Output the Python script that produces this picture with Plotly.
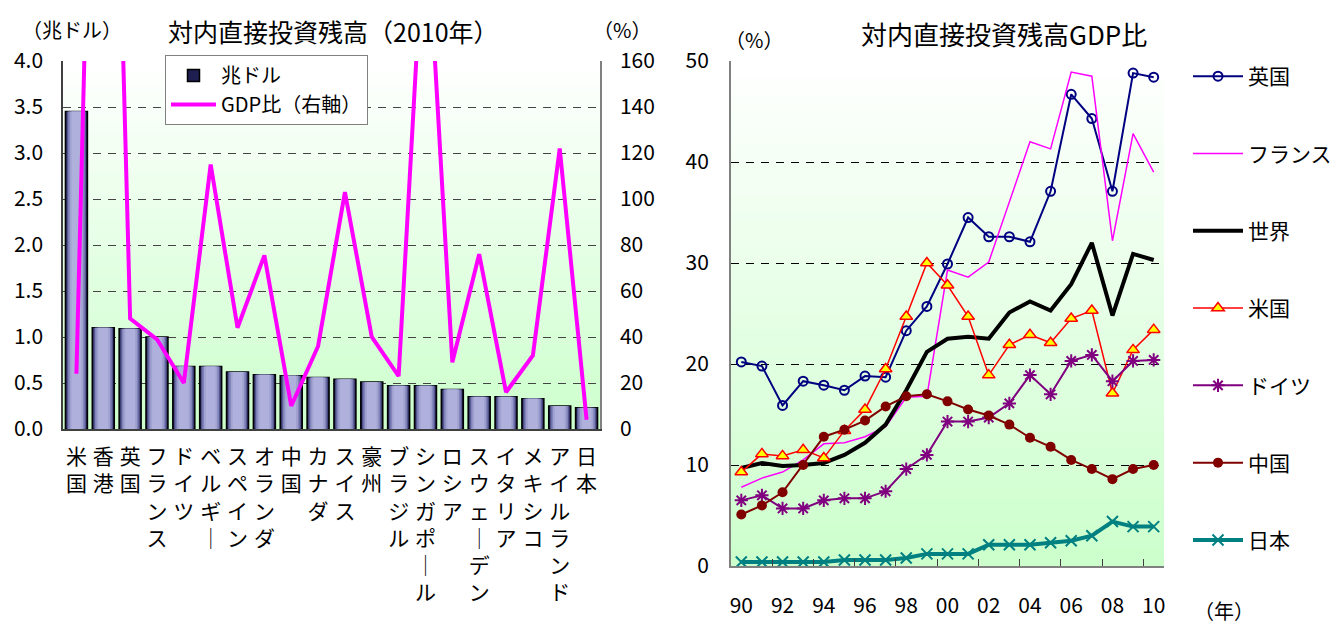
import plotly.graph_objects as go

# ---- 2010 inward FDI stock by economy ----
countries = ["米国", "香港", "英国", "フランス", "ドイツ", "ベルギー", "スペイン", "オランダ",
             "中国", "カナダ", "スイス", "豪州", "ブラジル", "シンガポール", "ロシア",
             "スウェーデン", "イタリア", "メキシコ", "アイルランド", "日本"]
stock_trillion_usd = [3.45, 1.10, 1.09, 1.00, 0.68, 0.68, 0.62, 0.59, 0.58, 0.56,
                      0.54, 0.51, 0.47, 0.47, 0.43, 0.35, 0.35, 0.33, 0.25, 0.23]
stock_gdp_pct = [24, 488, 48, 39, 20, 115, 44, 75.5, 10, 36,
                 103, 40, 23, 232, 29, 76, 16, 32, 122, 4]

# ---- inward FDI stock as % of GDP, 1990-2010 ----
years = list(range(1990, 2011))
year_labels = ["90", "92", "94", "96", "98", "00", "02", "04", "06", "08", "10"]
uk = [20.2, 19.8, 15.9, 18.3, 17.9, 17.4, 18.8, 18.7, 23.3, 25.7, 29.9,
      34.5, 32.6, 32.6, 32.1, 37.1, 46.7, 44.3, 37.1, 48.8, 48.4]
france = [7.8, 8.7, 9.3, 10.5, 12.1, 12.2, 12.8, 13.8, 16.7, 16.8, 29.3,
          28.6, 30.1, 36.1, 42.0, 41.3, 48.9, 48.5, 32.2, 42.8, 39.0]
world = [9.7, 10.2, 9.9, 10.0, 10.2, 11.0, 12.2, 14.0, 17.4, 21.2, 22.5,
         22.7, 22.5, 25.1, 26.2, 25.3, 27.9, 32.0, 24.8, 30.9, 30.3]
usa = [9.3, 11.1, 10.9, 11.5, 10.7, 13.4, 15.5, 19.5, 24.7, 30.0, 27.8,
       24.7, 18.9, 21.9, 22.9, 22.1, 24.5, 25.3, 17.1, 21.4, 23.4]
germany = [6.5, 7.0, 5.7, 5.7, 6.5, 6.7, 6.7, 7.4, 9.6, 11.0, 14.3,
           14.3, 14.7, 16.1, 18.9, 17.0, 20.3, 20.9, 18.3, 20.3, 20.4]
china = [5.1, 6.0, 7.3, 10.0, 12.8, 13.5, 14.4, 15.8, 16.8, 17.0, 16.3,
         15.5, 14.9, 14.0, 12.7, 11.8, 10.5, 9.6, 8.6, 9.6, 10.0]
japan = [0.4, 0.4, 0.4, 0.4, 0.4, 0.6, 0.6, 0.6, 0.8, 1.2, 1.2,
         1.2, 2.1, 2.1, 2.1, 2.3, 2.5, 3.0, 4.4, 3.9, 3.9]

W, H = 1331, 624
FONT = "Noto Sans CJK JP"


def fx(p):
    return p / W


def fy(p):
    return 1 - p / H


def vertical(name):
    # stack characters top to bottom; the long-vowel mark turns vertical
    return "<br>".join("│" if c == "ー" else c for c in name)


cats = [vertical(c) for c in countries]

fig = go.Figure()

# cylinder-like shading for the bars: stacked, narrowing layers
bar_layers = [
    (0.82, "#1e1e50", dict(color="#000000", width=1.5)),
    (0.72, "#55578f", dict(width=0)),
    (0.62, "#8183ba", dict(width=0)),
    (0.50, "#a0a2d0", dict(width=0)),
    (0.36, "#afb1dc", dict(width=0)),
]
for i, (w, col, ln) in enumerate(bar_layers):
    fig.add_trace(go.Bar(
        x=cats, y=stock_trillion_usd, width=w, name="兆ドル",
        marker=dict(color=col, line=ln),
        showlegend=(i == 0), legend="legend", legendgroup="bars",
        xaxis="x", yaxis="y", hoverinfo="skip" if i else None,
    ))

fig.add_trace(go.Scatter(
    x=cats, y=stock_gdp_pct, name="GDP比（右軸）", mode="lines",
    line=dict(color="#ff00ff", width=4),
    xaxis="x", yaxis="y2", legend="legend", legendgroup="gdp",
))

series = [
    ("英国", uk, dict(color="#000080", width=2),
     dict(symbol="circle-open", size=9, color="#000080", line=dict(width=2, color="#000080"))),
    ("フランス", france, dict(color="#ff00ff", width=1.5), None),
    ("世界", world, dict(color="#000000", width=4), None),
    ("米国", usa, dict(color="#ff0000", width=1.5),
     dict(symbol="triangle-up", size=11, color="#ffff00", line=dict(width=1.5, color="#ff0000"))),
    ("ドイツ", germany, dict(color="#800080", width=2),
     dict(symbol="asterisk-open", size=11, color="#800080", line=dict(width=2, color="#800080"))),
    ("中国", china, dict(color="#800000", width=2),
     dict(symbol="circle", size=10, color="#800000", line=dict(width=0))),
    ("日本", japan, dict(color="#008080", width=4),
     dict(symbol="x-thin-open", size=11, color="#008080", line=dict(width=2, color="#008080"))),
]
for name, vals, ln, mk in series:
    fig.add_trace(go.Scatter(
        x=years, y=vals, name=name,
        mode="lines+markers" if mk else "lines",
        line=ln, marker=mk, cliponaxis=False,
        xaxis="x2", yaxis="y3", legend="legend2", legendgroup=name,
    ))

# white-to-green vertical gradient behind both plot areas
shapes = []
N = 60
for xr, yr in (("x domain", "y domain"), ("x2 domain", "y3 domain")):
    for k in range(N):
        t = (k + 0.5) / N  # 0 at top, 1 at bottom
        rb = round(255 - (255 - 204) * t)
        shapes.append(dict(
            type="rect", xref=xr, yref=yr, x0=0, x1=1,
            y0=1 - (k + 1) / N - 0.002, y1=1 - k / N,
            fillcolor=f"rgb({rb},255,{rb})", line=dict(width=0), layer="below",
        ))

annotations = [
    dict(text="対内直接投資残高（2010年）", x=fx(334), y=fy(31), font=dict(size=25)),
    dict(text="（兆ドル）", x=fx(72), y=fy(29), font=dict(size=20)),
    dict(text="（%）", x=fx(622), y=fy(29), font=dict(size=20)),
    dict(text="対内直接投資残高GDP比", x=fx(1004), y=fy(33), font=dict(size=26)),
    dict(text="（%）", x=fx(754), y=fy(39), font=dict(size=20)),
    dict(text="（年）", x=fx(1224), y=fy(610), font=dict(size=20)),
]
for a in annotations:
    a.update(xref="paper", yref="paper", showarrow=False,
             xanchor="center", yanchor="middle")

fig.update_layout(
    width=W, height=H,
    margin=dict(l=0, r=0, t=0, b=0, autoexpand=False),
    paper_bgcolor="white", plot_bgcolor="rgba(0,0,0,0)",
    barmode="overlay",
    font=dict(family=FONT, size=18, color="black"),
    shapes=shapes, annotations=annotations,
    legend=dict(
        x=fx(165), y=fy(55), xanchor="left", yanchor="top",
        bgcolor="white", bordercolor="#808080", borderwidth=1,
        font=dict(size=20), tracegroupgap=0, itemwidth=45,
    ),
    legend2=dict(
        x=fx(1188), y=fy(56), xanchor="left", yanchor="top",
        bgcolor="rgba(0,0,0,0)", borderwidth=0,
        font=dict(size=21), tracegroupgap=47, itemwidth=50,
    ),
    xaxis=dict(
        domain=[fx(63), fx(600)], anchor="y", type="category",
        range=[-0.5, len(cats) - 0.5], showgrid=False,
        showline=True, linecolor="#404040", linewidth=1.5, mirror=False,
        ticks="", tickfont=dict(size=21), ticklabelstandoff=8,
    ),
    yaxis=dict(
        domain=[fy(429), fy(61)], anchor="x", range=[0, 4], dtick=0.5,
        tickformat=".1f", showgrid=True, gridcolor="#444444", griddash="8px,7px",
        gridwidth=1, zeroline=False, showline=True, linecolor="#404040",
        linewidth=1.5, ticks="", tickfont=dict(size=21), ticklabelstandoff=14,
    ),
    yaxis2=dict(
        overlaying="y", side="right", anchor="x", range=[0, 160], dtick=20,
        showgrid=False, zeroline=False, showline=True, linecolor="#808080",
        linewidth=1.5, ticks="", tickfont=dict(size=21), ticklabelstandoff=14,
    ),
    xaxis2=dict(
        domain=[fx(731), fx(1164)], anchor="y3", range=[1989.5, 2010.5],
        tickmode="array", tickvals=years[::2], ticktext=year_labels,
        showgrid=False, showline=True, linecolor="#808080", linewidth=2,
        ticks="", tickfont=dict(size=21), ticklabelstandoff=20,
        minor=dict(tickmode="array", tickvals=[y + 0.5 for y in years[1:-1:2]],
                   ticks="inside", ticklen=7, tickcolor="#404040", tickwidth=1,
                   showgrid=False),
    ),
    yaxis3=dict(
        domain=[fy(566), fy(61)], anchor="x2", range=[0, 50], dtick=10,
        showgrid=True, gridcolor="#000000", griddash="8px,7px", gridwidth=1,
        zeroline=False, showline=True, linecolor="#808080", linewidth=2,
        ticks="", tickfont=dict(size=21), ticklabelstandoff=16,
    ),
)

fig.write_html("out.html")
